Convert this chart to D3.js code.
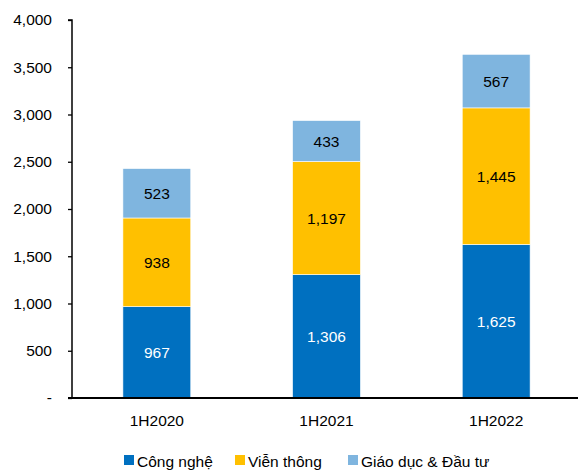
<!DOCTYPE html>
<html><head><meta charset="utf-8">
<script src="https://cdn.jsdelivr.net/npm/d3@7"></script>
<style>body{margin:0;background:#fff}svg{display:block;font-family:"Liberation Sans",Arial,sans-serif}</style>
</head><body>
<svg id="c" width="582" height="475"></svg>
<script>
const categories = ["1H2020","1H2021","1H2022"];
const seriesNames = ["Công nghệ","Viễn thông","Giáo dục & Đầu tư"];
const congNghe = [967,1306,1625];
const vienThong = [938,1197,1445];
const giaoDuc = [523,433,567];
const yTicks = [0,500,1000,1500,2000,2500,3000,3500,4000];
const colors = ["#0070C0","#FFC000","#7FB5DF"];
const labelColors = ["#fff","#000","#000"];
const FS = 15.5;

const svg = d3.select("#c");
const x = d3.scaleBand().domain(categories).range([72,581]).paddingInner(0.6).paddingOuter(0.3);
const y = d3.scaleLinear().domain([0,4000]).range([398,20]);

const rows = categories.map((c,i)=>({cat:c, v0:congNghe[i], v1:vienThong[i], v2:giaoDuc[i]}));
const stack = d3.stack().keys(["v0","v1","v2"])(rows);

stack.forEach((layer,k)=>{
  const g = svg.append("g");
  g.selectAll("rect").data(layer).enter().append("rect")
    .attr("x",d=>x(d.data.cat)).attr("width",x.bandwidth())
    .attr("y",d=>y(d[1])).attr("height",d=>y(d[0])-y(d[1]))
    .attr("fill",colors[k]).attr("stroke","#fff").attr("stroke-width",0.6);
  g.selectAll("text").data(layer).enter().append("text")
    .attr("x",d=>x(d.data.cat)+x.bandwidth()/2)
    .attr("y",d=>(y(d[0])+y(d[1]))/2+5.5)
    .attr("text-anchor","middle").attr("font-size",FS).attr("fill",labelColors[k])
    .text(d=>d3.format(",")(d[1]-d[0]));
});

const yAxis = d3.axisLeft(y).tickValues(yTicks).tickSize(4).tickPadding(16)
  .tickFormat(v=>v===0?"-":d3.format(",")(v));
const ya = svg.append("g").attr("transform","translate(72,0)").call(yAxis);
ya.select(".domain").attr("stroke","#000").attr("stroke-width",1.5).attr("d","M-4,20H0V398");
ya.selectAll(".tick line").attr("stroke","#000").attr("stroke-width",1.3);
ya.selectAll(".tick text").attr("font-size",FS).attr("fill","#000").attr("font-family","Liberation Sans, Arial, sans-serif");

const xAxis = d3.axisBottom(x).tickSize(0).tickPadding(17);
const xa = svg.append("g").attr("transform","translate(0,398)").call(xAxis);
xa.select(".domain").attr("stroke","#000").attr("stroke-width",2).attr("d","M68,0H578");
xa.selectAll(".tick text").attr("font-size",FS).attr("fill","#000").attr("font-family","Liberation Sans, Arial, sans-serif");

const legX = [124,235,348];
const leg = svg.append("g");
seriesNames.forEach((n,i)=>{
  leg.append("rect").attr("x",legX[i]).attr("y",455).attr("width",10).attr("height",10).attr("fill",colors[i]);
  leg.append("text").attr("x",legX[i]+13).attr("y",467).attr("font-size",FS).attr("fill","#000").text(n);
});
</script>
</body></html>
